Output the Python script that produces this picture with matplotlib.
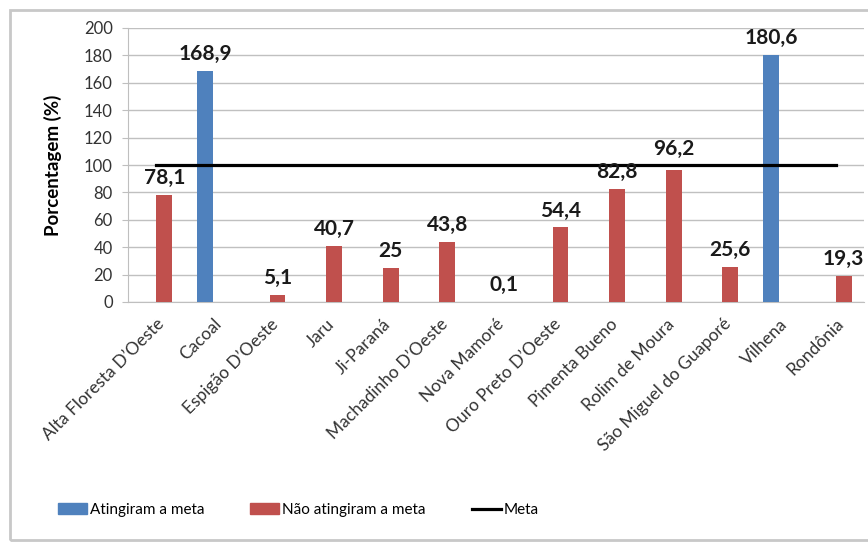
import numpy as np
import matplotlib
matplotlib.use("Agg")
import matplotlib.pyplot as plt
from matplotlib.patches import Rectangle, Patch
from matplotlib.lines import Line2D

plt.rcParams['font.family'] = ['Lato', 'DejaVu Sans']

# dados
municipios = ["Alta Floresta D’Oeste", "Cacoal", "Espigão D’Oeste", "Jaru", "Ji-Paraná",
              "Machadinho D’Oeste", "Nova Mamoré", "Ouro Preto D’Oeste", "Pimenta Bueno",
              "Rolim de Moura", "São Miguel do Guaporé", "Vilhena", "Rondônia"]
atingiram = [0, 168.9, 0, 0, 0, 0, 0, 0, 0, 0, 0, 180.6, 0]
nao_atingiram = [78.1, 0, 5.1, 40.7, 25, 43.8, 0.1, 54.4, 82.8, 96.2, 25.6, 0, 19.3]
meta = [100] * len(municipios)

azul = '#4F81BD'
vermelho = '#C0504D'

fig = plt.figure(figsize=(8.68, 5.43), dpi=100)
W, H = 868, 543
ax = fig.add_axes([128 / W, 1 - 302 / H, 736 / W, 274 / H])

x = np.arange(len(municipios)) + 0.5
w = 0.28

ax.bar(x - w / 2, atingiram, w, color=azul, zorder=3)
ax.bar(x + w / 2, nao_atingiram, w, color=vermelho, zorder=3)
ax.plot(x, meta, color='black', lw=2.3, zorder=4)

# rotulos de dados
extra = {9: 3}
for i in range(len(municipios)):
    if atingiram[i] > 0:
        v, xp = atingiram[i], x[i] - w / 2
    else:
        v, xp = nao_atingiram[i], x[i] + w / 2
    txt = f"{v:g}".replace('.', ',')
    ax.annotate(txt, (xp, v), xytext=(0, 5 + extra.get(i, 0)), textcoords='offset points',
                ha='center', va='bottom', fontsize=15, fontweight='bold', color='#1a1a1a', zorder=5)

ax.set_xlim(0, len(municipios))
ax.set_ylim(0, 200)
ax.set_yticks(range(0, 201, 20))
ax.set_xticks(x)
ax.set_xticklabels(municipios, rotation=45, ha='right', va='top', rotation_mode='anchor',
                   fontsize=12.5, color='#333333')
ax.tick_params(axis='x', length=0, pad=10)
ax.tick_params(axis='y', labelsize=12, labelcolor='#333333', length=4, color='#bfbfbf', pad=7)
ax.grid(axis='y', color='#c0c0c0', lw=1, zorder=0)
for s in ['top', 'right']:
    ax.spines[s].set_visible(False)
ax.spines['left'].set_color('#bfbfbf')
ax.spines['bottom'].set_color('#bfbfbf')

ax.set_ylabel('Porcentagem (%)', fontsize=13.5, fontweight='bold')
ax.yaxis.set_label_coords(-(128 - 62) / 736, 0.5)

# moldura
fig.patches.append(Rectangle((10 / W, 3 / H), 900 / W, (H - 13) / H, transform=fig.transFigure,
                             fill=False, edgecolor='#c8c8c8', lw=2))

handles = [Patch(color=azul), Patch(color=vermelho), Line2D([], [], color='black', lw=2.3)]
labels = ['Atingiram a meta', 'Não atingiram a meta', 'Meta']
fig.legend(handles, labels, loc='center left', bbox_to_anchor=(44 / W, 1 - 510 / H), ncol=3,
           frameon=False, fontsize=11, handlelength=1.9, handletextpad=0.2, columnspacing=3.0)

fig.savefig('out.png', dpi=100)
